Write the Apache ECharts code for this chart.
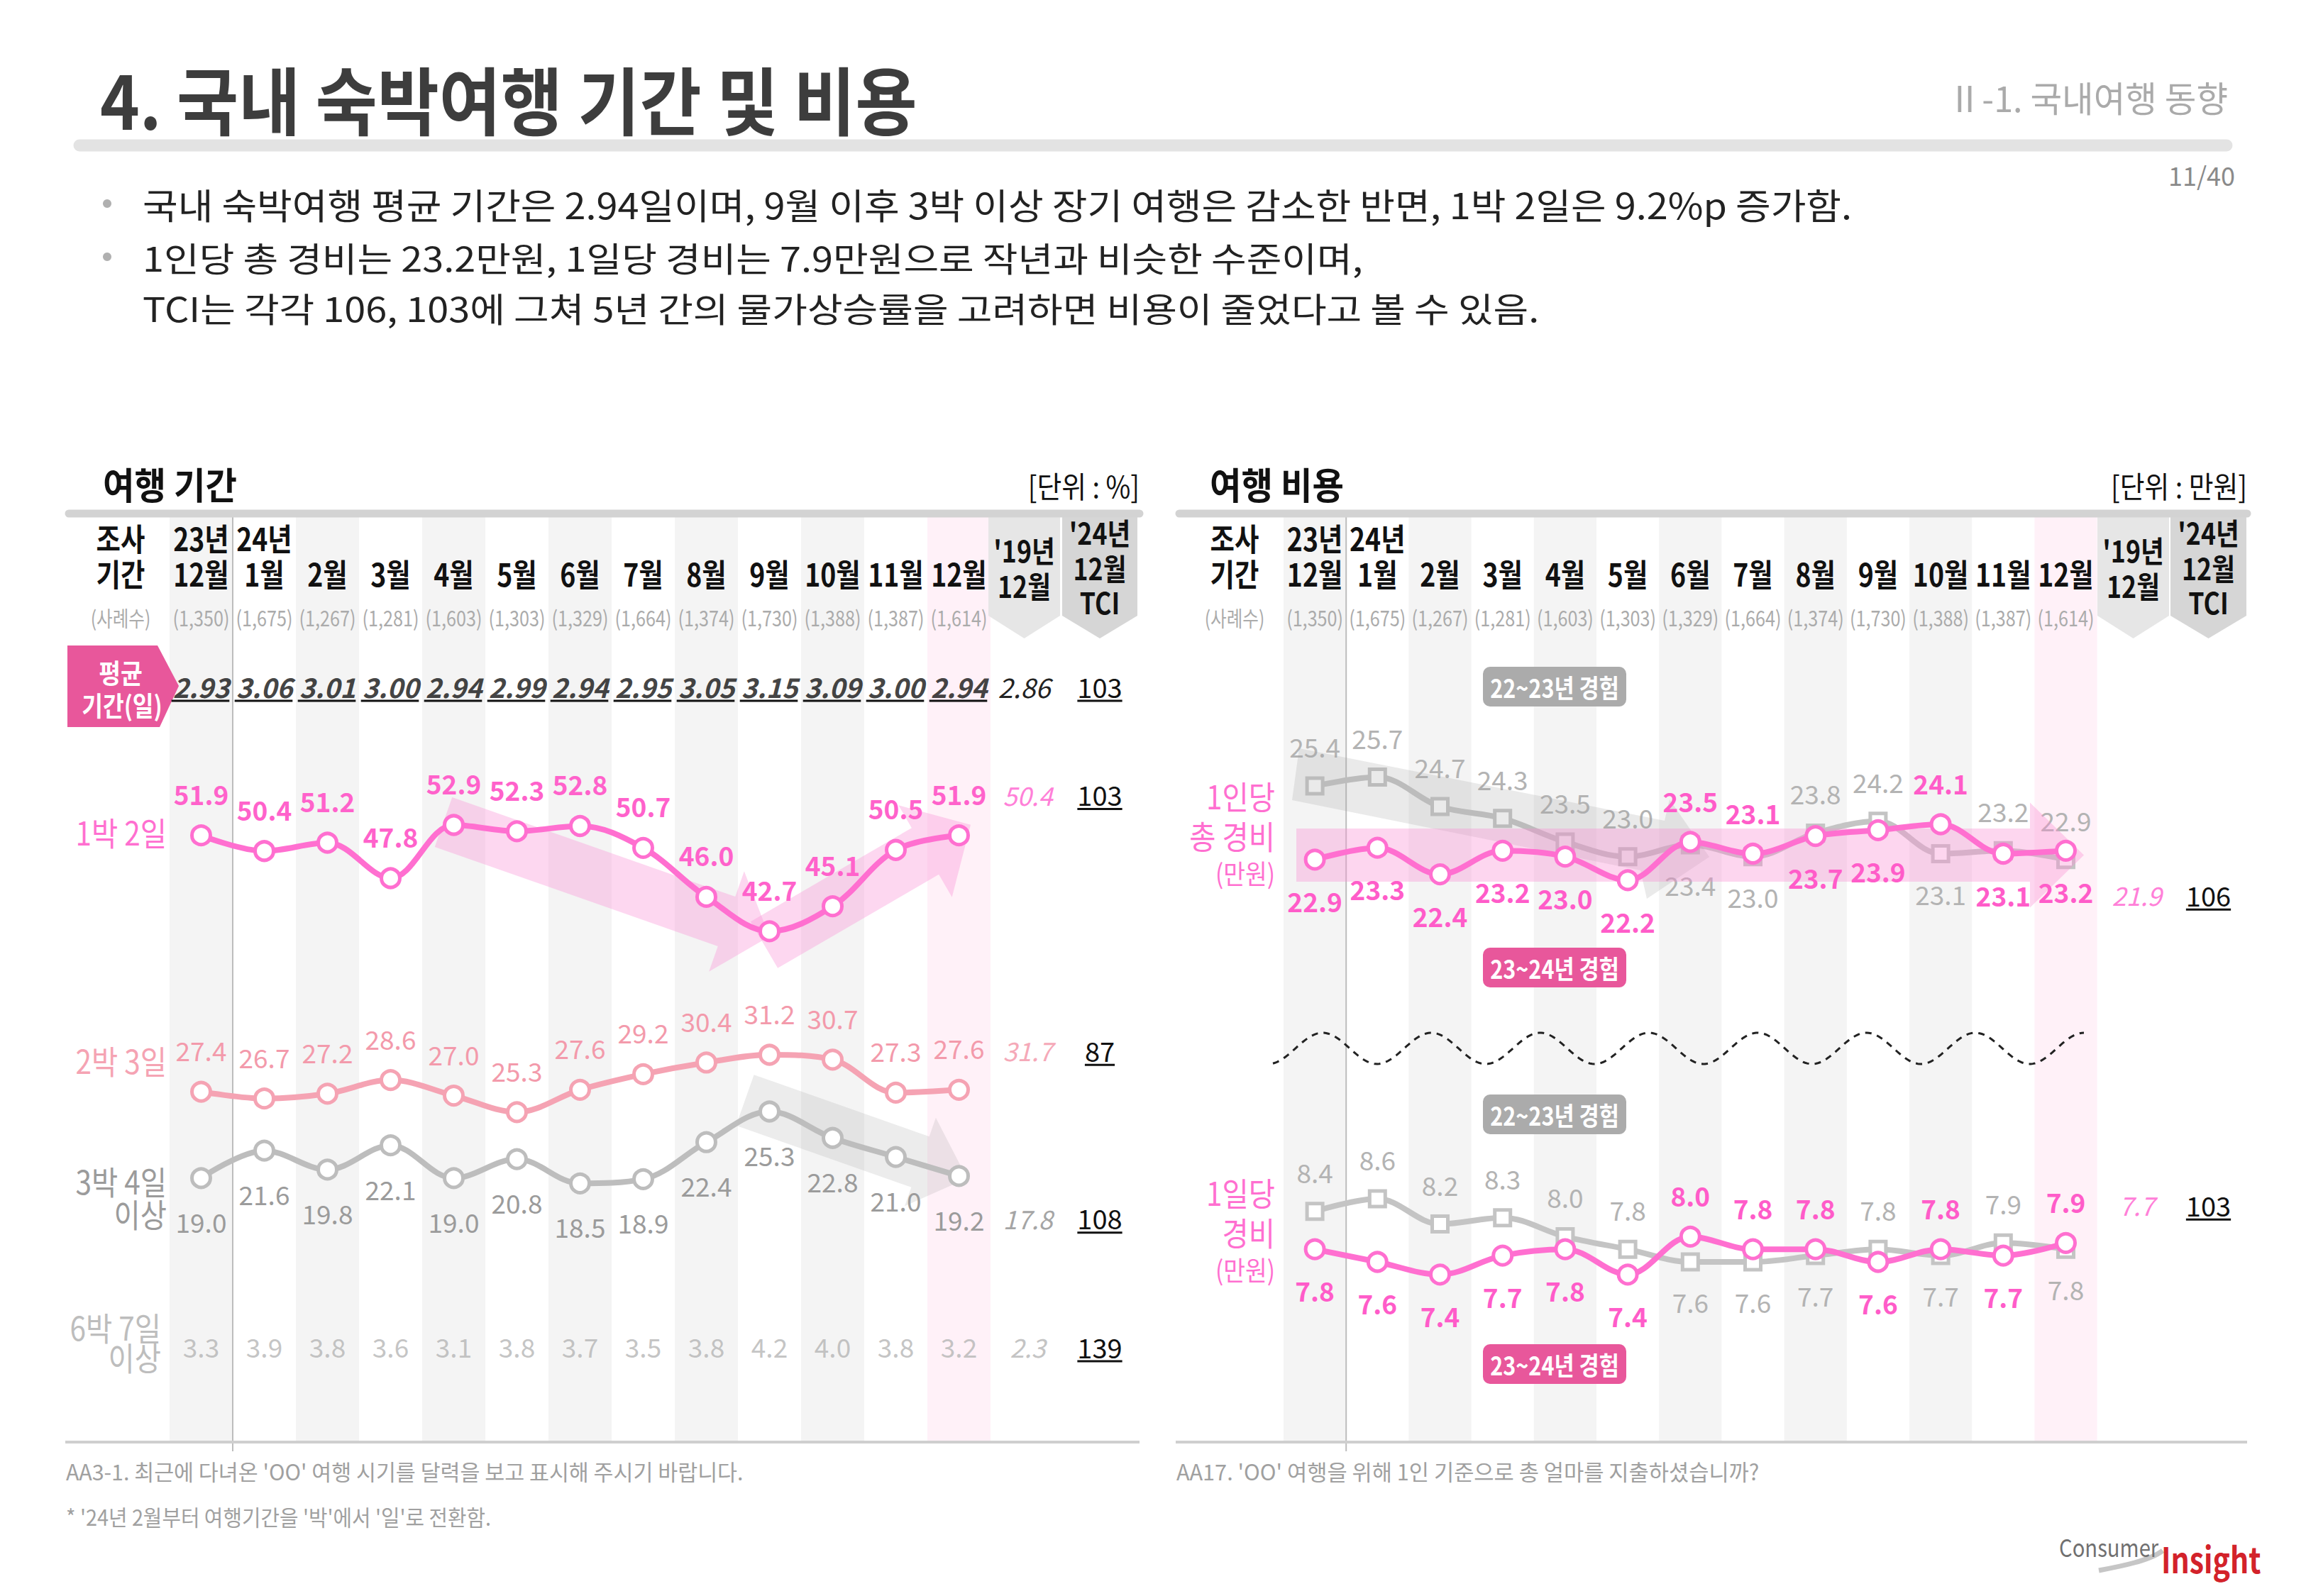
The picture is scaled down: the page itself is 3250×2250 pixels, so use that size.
<!DOCTYPE html>
<html><head><meta charset="utf-8">
<script src="https://cdn.jsdelivr.net/npm/echarts@6/dist/echarts.min.js"></script>
<style>html,body{margin:0;padding:0;background:#fff}#c{width:3250px;height:2250px}</style>
</head><body><div id="c"></div>
<script>
// ---------------- data ----------------
const yearLabels = ['23년', '24년'];
const monthLabels = ['12월','1월','2월','3월','4월','5월','6월','7월','8월','9월','10월','11월','12월'];
const sampleSizes = ['(1,350)','(1,675)','(1,267)','(1,281)','(1,603)','(1,303)','(1,329)','(1,664)','(1,374)','(1,730)','(1,388)','(1,387)','(1,614)'];
const avgDays = [2.93,3.06,3.01,3.00,2.94,2.99,2.94,2.95,3.05,3.15,3.09,3.00,2.94];
const avgDays2019 = '2.86';
const avgDaysTCI = '103';
const stay1n2d = [51.9,50.4,51.2,47.8,52.9,52.3,52.8,50.7,46.0,42.7,45.1,50.5,51.9];
const stay2n3d = [27.4,26.7,27.2,28.6,27.0,25.3,27.6,29.2,30.4,31.2,30.7,27.3,27.6];
const stay3n4d = [19.0,21.6,19.8,22.1,19.0,20.8,18.5,18.9,22.4,25.3,22.8,21.0,19.2];
const stay6n7d = [3.3,3.9,3.8,3.6,3.1,3.8,3.7,3.5,3.8,4.2,4.0,3.8,3.2];
const stay2019 = ['50.4','31.7','17.8','2.3'];
const stayTCI = ['103','87','108','139'];
const costTotalPrev = [25.4,25.7,24.7,24.3,23.5,23.0,23.4,23.0,23.8,24.2,23.1,23.2,22.9];
const costTotalCur  = [22.9,23.3,22.4,23.2,23.0,22.2,23.5,23.1,23.7,23.9,24.1,23.1,23.2];
const costDailyPrev = [8.4,8.6,8.2,8.3,8.0,7.8,7.6,7.6,7.7,7.8,7.7,7.9,7.8];
const costDailyCur  = [7.8,7.6,7.4,7.7,7.8,7.4,8.0,7.8,7.8,7.6,7.8,7.7,7.9];
const cost2019 = ['21.9','7.7'];
const costTCI = ['106','103'];
// label placement (t = above, b = below)
const posTotalPrev = 'ttttttbbttbtt';
const posTotalCur  = 'bbbbbbttbbtbb';
const posDailyPrev = 'ttttttbbbtbtb';
const posDailyCur  = 'bbbbbbtttbtbt';

// ---------------- layout ----------------
const F = "'Noto Sans CJK KR','Noto Sans',sans-serif";
const PINK = '#ff6fd0', SALMON = '#f5a3b3', GRAYLINE = '#bdbdbd';
const LP = {x0: 239, cw: 89}, RP = {x0: 1809, cw: 88.2}, N = 13;
const colX = (p, i) => p.x0 + p.cw * (i + 0.5);
const scales = [
  {p: LP, min: 40, max: 56, ref: 52.9, y: 1163, ppu: 14.7},
  {p: LP, min: 24, max: 33, ref: 31.2, y: 1487, ppu: 13.7},
  {p: LP, min: 17, max: 27, ref: 25.3, y: 1567, ppu: 14.9},
  {p: RP, min: 21.5, max: 26.2, ref: 24.1, y: 1162, ppu: 41.5},
  {p: RP, min: 7.2, max: 8.8, ref: 8.6, y: 1690, ppu: 89},
  {p: LP, min: -1, max: 1, ref: 0, y: 967, ppu: 20},
  {p: LP, min: -1, max: 1, ref: 0, y: 1898, ppu: 20}
];
const yPix = (k, v) => scales[k].y - (v - scales[k].ref) * scales[k].ppu;

const el = [];
const mctx = document.createElement('canvas').getContext('2d');
function T(text, x, y, o = {}) {
  const fs = o.fs || 40;
  el.push({type: 'text', x, y, scaleX: o.sx || 1, z: o.z || 20, silent: true,
    style: {text, fill: o.c || '#111', fontSize: fs, lineHeight: o.lh || fs, fontFamily: F,
      fontWeight: o.fw || 'normal', fontStyle: o.fst || 'normal',
      align: o.al || 'center', verticalAlign: 'middle', textAlign: o.al || 'center', textVerticalAlign: 'middle'}});
  if (o.ul) {
    mctx.font = `${o.fst || 'normal'} ${o.fw || 'normal'} ${fs}px ${F}`;
    const w = mctx.measureText(text).width * (o.sx || 1);
    const x1 = o.al === 'left' ? x : o.al === 'right' ? x - w : x - w / 2;
    el.push({type: 'line', z: 20, silent: true, shape: {x1, y1: y + fs * 0.55, x2: x1 + w, y2: y + fs * 0.55}, style: {stroke: o.c || '#111', lineWidth: 3}});
  }
}
function Rc(x, y, w, h, fill, z, r) { el.push({type: 'rect', z, silent: true, shape: {x, y, width: w, height: h, r: r || 0}, style: {fill}}); }
function Pg(points, fill, z) { el.push({type: 'polygon', z, silent: true, shape: {points}, style: {fill}}); }
function Ln(x1, y1, x2, y2, stroke, lw, z, cap) { el.push({type: 'line', z, silent: true, shape: {x1, y1, x2, y2}, style: {stroke, lineWidth: lw, lineCap: cap || 'butt'}}); }
function arrowPoly(s, e, hw, hhw, hl) {
  const dx = e[0] - s[0], dy = e[1] - s[1], L = Math.hypot(dx, dy), ux = dx / L, uy = dy / L, nx = -uy, ny = ux;
  return [[s[0] + nx * hw, s[1] + ny * hw], [e[0] + nx * hw, e[1] + ny * hw], [e[0] + nx * hhw, e[1] + ny * hhw],
    [e[0] + ux * hl, e[1] + uy * hl], [e[0] - nx * hhw, e[1] - ny * hhw], [e[0] - nx * hw, e[1] - ny * hw], [s[0] - nx * hw, s[1] - ny * hw]];
}

// ---- page header ----
T('4. 국내 숙박여행 기간 및 비용', 141, 138, {fs: 104, fw: 'bold', c: '#3d3d3d', al: 'left', sx: 0.91});
T('Ⅱ-1. 국내여행 동향', 3140, 136, {fs: 50, c: '#aaaaaa', al: 'right', sx: 0.97});
Ln(112, 205, 3138, 205, '#e3e3e3', 17, 5, 'round');
T('11/40', 3150, 246, {fs: 36, c: '#8a8a8a', al: 'right'});
el.push({type: 'circle', z: 20, silent: true, shape: {cx: 151, cy: 287, r: 6}, style: {fill: '#b0b0b0'}});
el.push({type: 'circle', z: 20, silent: true, shape: {cx: 151, cy: 362, r: 6}, style: {fill: '#b0b0b0'}});
T('국내 숙박여행 평균 기간은 2.94일이며, 9월 이후 3박 이상 장기 여행은 감소한 반면, 1박 2일은 9.2%p 증가함.', 201, 287, {fs: 50, c: '#222', al: 'left', sx: 1.08});
T('1인당 총 경비는 23.2만원, 1일당 경비는 7.9만원으로 작년과 비슷한 수준이며,', 201, 362, {fs: 48, c: '#222', al: 'left', sx: 1.125});
T('TCI는 각각 106, 103에 그쳐 5년 간의 물가상승률을 고려하면 비용이 줄었다고 볼 수 있음.', 201, 433, {fs: 48, c: '#222', al: 'left', sx: 1.125});

// ---- panel frames ----
function panel(p, title, unit, tx, barX1, barX2, c19, cTCI) {
  T(title, tx, 681, {fs: 52, fw: 'bold', al: 'left', sx: 0.93});
  T(unit, barX2, 684, {fs: 42, al: 'right', sx: 0.9});
  for (let i = 0; i < N; i += 2) Rc(p.x0 + p.cw * i, 729, p.cw, 1302, i === 12 ? '#fff1f8' : '#f4f4f4', 0);
  Ln(p.x0 + p.cw, 729, p.x0 + p.cw, 2046, '#bdbdbd', 2, 1);
  Ln(barX1, 724, barX2, 724, '#d3d3d3', 11, 5, 'round');
  Ln(barX1 - 5, 2033, barX2, 2033, '#cfcfcf', 4, 1);
  Pg([[c19[0], 729], [c19[1], 729], [c19[1], 868], [(c19[0] + c19[1]) / 2, 900], [c19[0], 868]], '#e6e6e6', 2);
  Pg([[cTCI[0], 729], [cTCI[1], 729], [cTCI[1], 868], [(cTCI[0] + cTCI[1]) / 2, 900], [cTCI[0], 868]], '#d6d6d6', 2);
  const x19 = (c19[0] + c19[1]) / 2, xT = (cTCI[0] + cTCI[1]) / 2;
  T("'19년", x19, 775, {fs: 42, fw: 'bold', sx: 0.85});
  T('12월', x19, 825, {fs: 42, fw: 'bold', sx: 0.85});
  T("'24년", xT, 750, {fs: 42, fw: 'bold', sx: 0.85});
  T('12월', xT, 800, {fs: 42, fw: 'bold', sx: 0.85});
  T('TCI', xT, 848, {fs: 42, fw: 'bold', sx: 0.85});
  const lx = p.x0 - 69;
  T('조사', lx, 758, {fs: 44, fw: 'bold', sx: 0.85});
  T('기간', lx, 808, {fs: 44, fw: 'bold', sx: 0.85});
  T('(사례수)', lx, 870, {fs: 30, c: '#ababab', sx: 0.82});
  yearLabels.forEach((t, i) => T(t, colX(p, i), 758, {fs: 44, fw: 'bold', sx: 0.85}));
  monthLabels.forEach((t, i) => T(t, colX(p, i), 808, {fs: 44, fw: 'bold', sx: 0.85}));
  sampleSizes.forEach((t, i) => T(t, colX(p, i), 870, {fs: 30, c: '#ababab', sx: 0.84}));
  return [x19, xT];
}
const [lx19, lxT] = panel(LP, '여행 기간', '[단위 : %]', 145, 97, 1606, [1393, 1494], [1497, 1603]);
const [rx19, rxT] = panel(RP, '여행 비용', '[단위 : 만원]', 1705, 1662, 3167, [2956, 3057], [3059, 3166]);

// ---- left panel labels ----
Pg([[95, 910], [222, 910], [252, 967], [225, 1025], [95, 1025]], '#e8579b', 3);
T('평균', 170, 946, {fs: 38, fw: 'bold', c: '#fff', sx: 0.88});
T('기간(일)', 172, 992, {fs: 38, fw: 'bold', c: '#fff', sx: 0.85});
T(avgDays2019, lx19, 967, {fs: 38, fst: 'italic', c: '#222'});
T(avgDaysTCI, lxT, 967, {fs: 38, c: '#111', ul: true});
T('1박 2일', 235, 1172, {fs: 46, c: PINK, al: 'right', sx: 0.88});
T('2박 3일', 235, 1494, {fs: 46, c: SALMON, al: 'right', sx: 0.88});
T('3박 4일', 235, 1664, {fs: 46, c: '#9b9b9b', al: 'right', sx: 0.88});
T('이상', 235, 1710, {fs: 46, c: '#9b9b9b', al: 'right', sx: 0.88});
T('6박 7일', 227, 1870, {fs: 46, c: '#bdbdbd', al: 'right', sx: 0.88});
T('이상', 227, 1912, {fs: 46, c: '#bdbdbd', al: 'right', sx: 0.88});
const sideYL = [yPix(0, stay1n2d[12]) - 58, yPix(1, stay2n3d[12]) - 56, yPix(2, stay3n4d[12]) + 59, 1898];
const sideColL = ['#ff80d8', '#f5a9b8', '#a5a5a5', '#c4c4c4'];
stay2019.forEach((t, k) => T(t, lx19 + 5, sideYL[k], {fs: 36, fst: 'italic', c: sideColL[k]}));
stayTCI.forEach((t, k) => T(t, lxT, sideYL[k], {fs: 38, c: '#111', ul: true}));
avgDays.forEach((v, i) => {
  mctx.font = `italic bold 38px ${F}`;
  const w = mctx.measureText(v.toFixed(2)).width;
  Ln(colX(LP, i) - w / 2 - 2, 988, colX(LP, i) + w / 2, 988, '#111', 3, 20);
});
Pg(arrowPoly([625, 1159], [1024, 1299], 37, 75, 64), 'rgba(250,150,215,0.38)', 1);
Pg(arrowPoly([1077, 1332], [1304, 1200], 38, 75, 74), 'rgba(250,150,215,0.38)', 1);
Pg(arrowPoly([1050, 1551], [1297, 1638], 38, 66, 70), 'rgba(160,160,160,0.2)', 1);

// ---- right panel labels ----
T('1인당', 1797, 1121, {fs: 46, c: PINK, al: 'right', sx: 0.88});
T('총 경비', 1797, 1177, {fs: 46, c: PINK, al: 'right', sx: 0.88});
T('(만원)', 1797, 1229, {fs: 38, c: PINK, al: 'right', sx: 0.88});
T('1일당', 1797, 1680, {fs: 46, c: PINK, al: 'right', sx: 0.88});
T('경비', 1797, 1736, {fs: 46, c: PINK, al: 'right', sx: 0.88});
T('(만원)', 1797, 1788, {fs: 38, c: PINK, al: 'right', sx: 0.88});
function badge(text, cy, fill) {
  Rc(2090, cy - 28, 202, 56, fill, 15, 10);
  T(text, 2191, cy, {fs: 36, fw: 'bold', c: '#fff', sx: 0.85});
}
badge('22~23년 경험', 968, '#ababab');
badge('23~24년 경험', 1364, '#e8579b');
badge('22~23년 경험', 1571, '#ababab');
badge('23~24년 경험', 1923, '#e8579b');
const sideYR = [yPix(3, costTotalCur[12]) + 62, yPix(4, costDailyCur[12]) - 54];
cost2019.forEach((t, k) => T(t, rx19 + 5, sideYR[k], {fs: 36, fst: 'italic', c: '#ff80d8'}));
costTCI.forEach((t, k) => T(t, rxT, sideYR[k], {fs: 38, c: '#111', ul: true}));
Pg([[1831, 1055], [2346, 1157], [2353, 1127], [2409, 1208], [2321, 1267], [2312, 1227], [1821, 1128]], 'rgba(160,160,160,0.22)', 4);
Pg(arrowPoly([1827, 1205.5], [2861, 1205.5], 37.5, 74, 76), 'rgba(250,140,210,0.36)', 4);
const wave = [];
for (let x = 1794; x <= 2939; x += 3) wave.push([x, 1478 - 22 * Math.cos(2 * Math.PI * (x - 1864) / 153.3)]);
el.push({type: 'polyline', z: 6, silent: true, shape: {points: wave}, style: {stroke: '#222', lineWidth: 3, lineDash: [9, 8], fill: null}});

// ---- footer ----
T("AA3-1. 최근에 다녀온 'OO' 여행 시기를 달력을 보고 표시해 주시기 바랍니다.", 93, 2073, {fs: 31, c: '#a0a0a0', al: 'left', sx: 0.98});
T("* '24년 2월부터 여행기간을 '박'에서 '일'로 전환함.", 93, 2138, {fs: 31, c: '#a0a0a0', al: 'left', sx: 0.93});
T("AA17. 'OO' 여행을 위해 1인 기준으로 총 얼마를 지출하셨습니까?", 1658, 2073, {fs: 31, c: '#a0a0a0', al: 'left', sx: 0.99});
el.push({type: 'bezierCurve', z: 5, silent: true, shape: {x1: 2958, y1: 2214, x2: 3048, y2: 2186, cpx1: 2990, cpy1: 2208, cpx2: 3030, cpy2: 2200}, style: {stroke: '#c6c6c6', lineWidth: 7, fill: null}});
T('Consumer', 2902, 2180, {fs: 34, c: '#707070', al: 'left', sx: 0.86});
T('Insight', 3046, 2196, {fs: 50, fw: 'bold', c: '#d3222a', al: 'left', sx: 0.82});

// ---------------- series ----------------
function lineS(k, data, color, pos, o) {
  return {type: 'line', xAxisIndex: k, yAxisIndex: k, z: o.z, animation: false, silent: true,
    data: data.map((v, i) => ({value: v, label: {position: pos[i] === 't' ? 'top' : 'bottom'}})),
    smooth: 0.35, symbol: o.symbol || 'circle', symbolSize: o.size || 26,
    lineStyle: {color, width: o.lw || 8}, itemStyle: {color: '#fff', borderColor: color, borderWidth: 5},
    label: {show: true, distance: o.dist || 25, color: o.lc, fontSize: 37, fontWeight: o.fw || 'normal', fontFamily: F,
      formatter: p => p.value.toFixed(1)}};
}
const allT = 'ttttttttttttt', allB = 'bbbbbbbbbbbbb';
const series = [
  lineS(0, stay1n2d, PINK, allT, {z: 3, lc: '#ff62cb', fw: '600'}),
  lineS(1, stay2n3d, SALMON, allT, {z: 3, lc: '#f39aab'}),
  lineS(2, stay3n4d, GRAYLINE, allB, {z: 3, lc: '#9b9b9b', dist: 27}),
  lineS(3, costTotalPrev, '#c4c4c4', posTotalPrev, {z: 3, lc: '#b3b3b3', symbol: 'rect', size: 22, dist: 24}),
  lineS(3, costTotalCur, PINK, posTotalCur, {z: 5, lc: '#ff5cc9', fw: 'bold', dist: 24}),
  lineS(4, costDailyPrev, '#c4c4c4', posDailyPrev, {z: 3, lc: '#b3b3b3', symbol: 'rect', size: 22, dist: 24}),
  lineS(4, costDailyCur, PINK, posDailyCur, {z: 5, lc: '#ff5cc9', fw: 'bold', dist: 24}),
  {type: 'scatter', xAxisIndex: 5, yAxisIndex: 5, z: 10, animation: false, silent: true, symbolSize: 1,
    itemStyle: {color: 'rgba(0,0,0,0)'}, data: avgDays.map((v, i) => [i, 0, v]),
    label: {show: true, position: 'inside', color: '#111', fontSize: 38, fontWeight: 'bold', fontStyle: 'italic', fontFamily: F,
      formatter: p => p.value[2].toFixed(2)}},
  {type: 'scatter', xAxisIndex: 6, yAxisIndex: 6, z: 10, animation: false, silent: true, symbolSize: 1,
    itemStyle: {color: 'rgba(0,0,0,0)'}, data: stay6n7d.map((v, i) => [i, 0, v]),
    label: {show: true, position: 'inside', color: '#b5b5b5', fontSize: 37, fontFamily: F,
      formatter: p => p.value[2].toFixed(1)}}
];

const chart = echarts.init(document.getElementById('c'), null, {renderer: 'svg', width: 3250, height: 2250});
chart.setOption({
  animation: false,
  backgroundColor: '#ffffff',
  grid: scales.map(s => ({left: s.p.x0, width: s.p.cw * N, top: s.y - (s.max - s.ref) * s.ppu, height: (s.max - s.min) * s.ppu})),
  xAxis: scales.map((s, k) => ({type: 'category', gridIndex: k, data: monthLabels.map((m, i) => String(i)), boundaryGap: true, show: false})),
  yAxis: scales.map((s, k) => ({type: 'value', gridIndex: k, min: s.min, max: s.max, show: false})),
  graphic: {elements: el},
  series
});
</script></body></html>
